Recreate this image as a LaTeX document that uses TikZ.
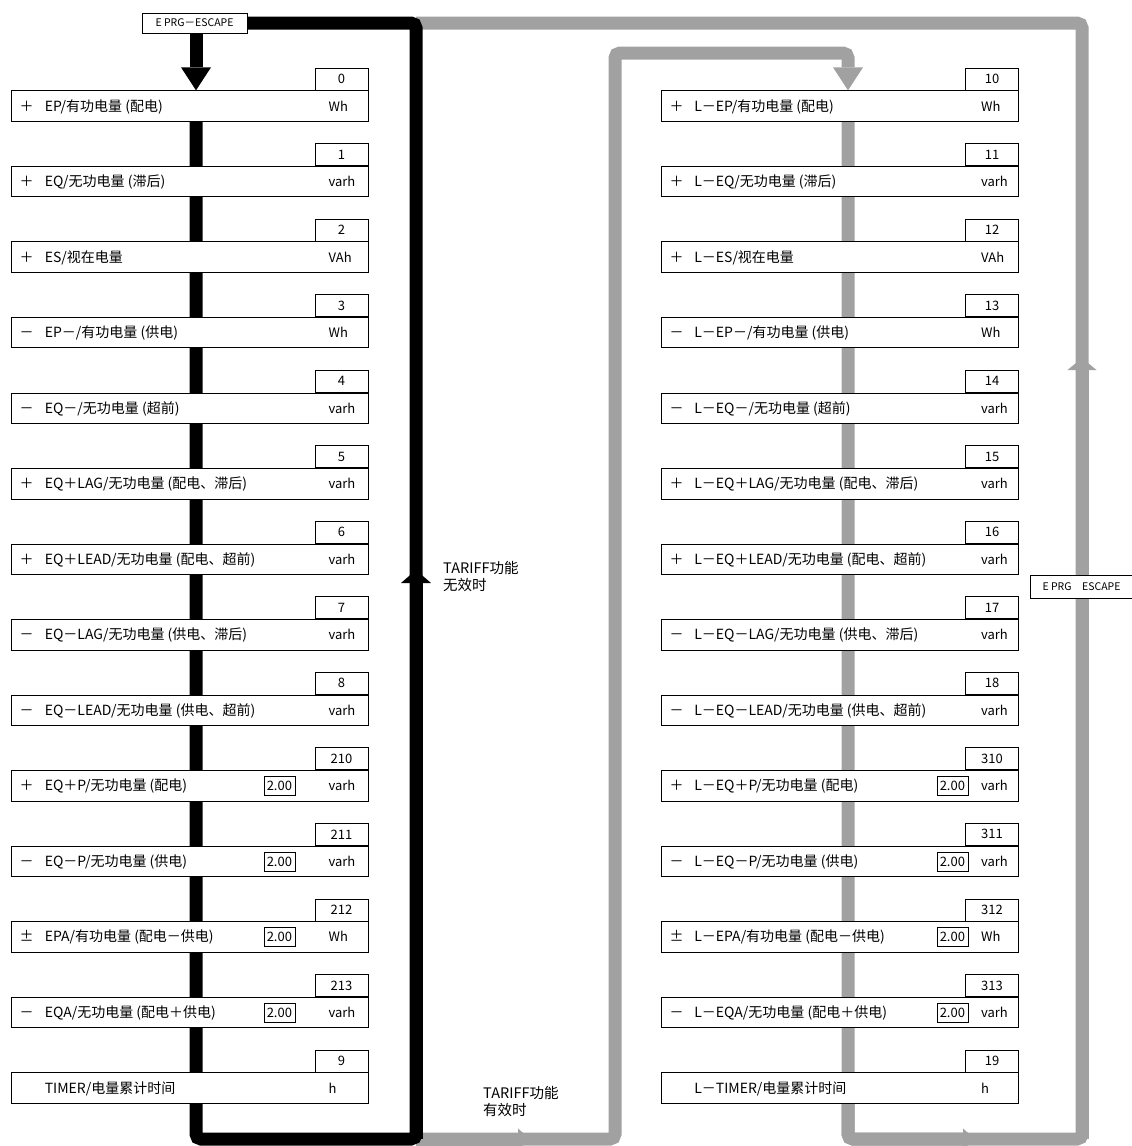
\documentclass[tikz,border=0pt]{standalone}
\usepackage{fontspec}
\setmainfont{Noto Sans CJK SC}
\usetikzlibrary{arrows.meta,backgrounds}

\definecolor{flowgrey}{RGB}{160,161,160}

\tikzset{
  rowbox/.style={draw,fill=white,line width=0.8pt,minimum width=357pt,minimum height=30.5pt,inner sep=0pt},
  numbox/.style={draw,fill=white,line width=0.8pt,minimum width=53pt,minimum height=22pt,inner sep=0pt,font=\fontsize{13}{15}\selectfont},
  txt/.style={inner sep=0pt,font=\fontsize{14}{16}\selectfont},
  unittxt/.style={inner sep=0pt,anchor=base west,font=\fontsize{13}{15}\selectfont},
  valbox/.style={draw,line width=0.7pt,minimum width=31pt,minimum height=19pt,inner sep=0pt,font=\fontsize{13}{15}\selectfont},
  tagbox/.style={draw,fill=white,line width=0.8pt,minimum width=105pt,minimum height=20pt,inner sep=0pt,font=\fontsize{10.5}{12}\selectfont},
  condtxt/.style={inner sep=0pt,anchor=north west,align=left,font=\fontsize{14.5}{17}\selectfont},
  blkline/.style={line width=13pt,black,rounded corners=5pt},
  greyline/.style={line width=13pt,flowgrey,rounded corners=5pt},
}

\begin{document}
\begin{tikzpicture}[x=1pt,y=-1pt]
\useasboundingbox (0,0) rectangle (1132,1146);

% left column: normal values
\foreach \n/\s/\t/\u [count=\i from 0] in {
  0/＋/{EP/有功电量 (配电)}/Wh,
  1/＋/{EQ/无功电量 (滞后)}/varh,
  2/＋/{ES/视在电量}/VAh,
  3/－/{EP－/有功电量 (供电)}/Wh,
  4/－/{EQ－/无功电量 (超前)}/varh,
  5/＋/{EQ＋LAG/无功电量 (配电、滞后)}/varh,
  6/＋/{EQ＋LEAD/无功电量 (配电、超前)}/varh,
  7/－/{EQ－LAG/无功电量 (供电、滞后)}/varh,
  8/－/{EQ－LEAD/无功电量 (供电、超前)}/varh,
  210/＋/{EQ＋P/无功电量 (配电)}/varh,
  211/－/{EQ－P/无功电量 (供电)}/varh,
  212/±/{EPA/有功电量 (配电－供电)}/Wh,
  213/－/{EQA/无功电量 (配电＋供电)}/varh,
  9//{TIMER/电量累计时间}/h}{
  \node[rowbox] (L\i) at (189.5,106+75.54*\i) {};
  \node[numbox,anchor=south east] (Ln\i) at (L\i.north east) {\n};
  \node[txt,anchor=base] (Ls\i) at ([xshift=16pt,yshift=-5pt]L\i.west) {\s};
  \node[txt,anchor=base west] (Lt\i) at ([xshift=34pt,yshift=-5pt]L\i.west) {\t};
  \node[unittxt] (Lu\i) at ([xshift=-40pt,yshift=-5pt]L\i.east) {\u};
}
\foreach \i in {9,...,12}
  \node[valbox] (Lv\i) at ([xshift=-89pt]L\i.east) {2.00};

% right column: L values
\foreach \n/\s/\t/\u [count=\i from 0] in {
  10/＋/{L－EP/有功电量 (配电)}/Wh,
  11/＋/{L－EQ/无功电量 (滞后)}/varh,
  12/＋/{L－ES/视在电量}/VAh,
  13/－/{L－EP－/有功电量 (供电)}/Wh,
  14/－/{L－EQ－/无功电量 (超前)}/varh,
  15/＋/{L－EQ＋LAG/无功电量 (配电、滞后)}/varh,
  16/＋/{L－EQ＋LEAD/无功电量 (配电、超前)}/varh,
  17/－/{L－EQ－LAG/无功电量 (供电、滞后)}/varh,
  18/－/{L－EQ－LEAD/无功电量 (供电、超前)}/varh,
  310/＋/{L－EQ＋P/无功电量 (配电)}/varh,
  311/－/{L－EQ－P/无功电量 (供电)}/varh,
  312/±/{L－EPA/有功电量 (配电－供电)}/Wh,
  313/－/{L－EQA/无功电量 (配电＋供电)}/varh,
  19//{L－TIMER/电量累计时间}/h}{
  \node[rowbox] (R\i) at (840,106+75.54*\i) {};
  \node[numbox,anchor=south east] (Rn\i) at (R\i.north east) {\n};
  \node[txt,anchor=base] (Rs\i) at ([xshift=15.5pt,yshift=-5pt]R\i.west) {\s};
  \node[txt,anchor=base west] (Rt\i) at ([xshift=33pt,yshift=-5pt]R\i.west) {\t};
  \node[unittxt] (Ru\i) at ([xshift=-38pt,yshift=-5pt]R\i.east) {\u};
}
\foreach \i in {9,...,12}
  \node[valbox] (Rv\i) at ([xshift=-66.5pt]R\i.east) {2.00};

% escape tags and conditions
\node[tagbox] (eprg) at (194.5,23) {E PRG－ESCAPE};
\node[tagbox,minimum width=103pt,minimum height=23pt] (eprgR) at (1081.5,586.5) {E PRG　ESCAPE};
\node[condtxt] (offtxt) at (443,561) {TARIFF功能\\无效时};
\node[condtxt] (ontxt) at (483,1086) {TARIFF功能\\有效时};

\coordinate (colL) at (196,0);
\coordinate (colR) at (848,0);
\coordinate (blkcorner) at (416,1139);
\coordinate (blktop) at (416,23);
\coordinate (blkarrow) at (416,570);
\coordinate (ginner) at (615,53);
\coordinate (garrowA) at (530,1139);
\coordinate (gcorner) at (1082,1139);
\coordinate (gtop) at (1082,23);
\coordinate (garrowB) at (975,1139);
\coordinate (garrowC) at (1082,358);

\begin{pgfonlayer}{background}
  % grey route: TARIFF on
  \draw[greyline,-{Triangle[width=30pt,length=23pt,line width=0pt]}] (blkcorner) -| (ginner) -| (R0.north -| colR);
  \draw[greyline,-{Triangle[width=21pt,length=12pt,line width=0pt]}] (blkcorner) -- (garrowA);
  \draw[greyline] (R0.south -| colR) -- (R13.south -| colR) |- (gcorner) -- (gtop) -- (blktop);
  \draw[greyline,-{Triangle[width=21pt,length=12pt,line width=0pt]}] (R13.south -| colR) |- (garrowB);
  \draw[greyline,-{Triangle[width=29pt,length=12pt,line width=0pt]}] (gcorner) -- (garrowC);
  % black route: TARIFF off
  \draw[blkline,-{Triangle[width=30pt,length=23pt,line width=0pt]}] (eprg.south -| colL) -- (L0.north -| colL);
  \draw[blkline] (L0.south -| colL) -- (L13.south -| colL) |- (blkcorner) -- (blktop) -- (eprg.east);
  \draw[blkline,-{Triangle[width=30pt,length=13pt,line width=0pt]}] (blkcorner) -- (blkarrow);
\end{pgfonlayer}
\end{tikzpicture}
\end{document}
